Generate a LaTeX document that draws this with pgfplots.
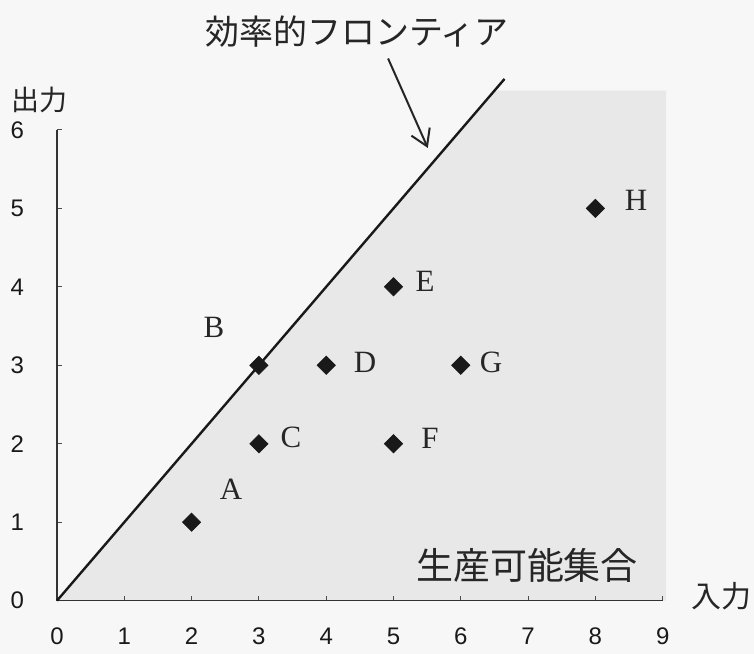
\documentclass[border=0pt]{standalone}
\usepackage{fontspec}
\setmainfont{Liberation Sans}
\newfontfamily\serifabc{Liberation Serif}
\newfontfamily\jp{Noto Sans CJK JP}
\usepackage{pgfplots}
\pgfplotsset{compat=1.18}
\usetikzlibrary{arrows.meta}
\begin{document}
\begin{tikzpicture}
\begin{axis}[
    set layers,
    scale only axis,
    width=303pt, height=235.5pt,
    xmin=0, xmax=9, ymin=0, ymax=6,
    axis lines*=left,
    axis line style={line width=0.75pt, black!80},
    xtick={0,...,9}, ytick={0,...,6},
    tick align=inside,
    major tick length=2.5pt,
    tick style={line width=0.5pt, black!70},
    /pgf/number format/assume math mode=true,
    tick label style={font=\fontsize{12}{13}\selectfont, text=black!90},
    xticklabel style={yshift=-10pt},
    yticklabel style={xshift=-13pt},
    clip=false]
  % scanned page and the shaded production set
  \begin{pgfonlayer}{axis background}
    \fill[gray!6] (axis cs:-0.847,-0.675) rectangle (axis cs:10.357,7.656);
    \fill[gray!18] (axis cs:0,0) -- (axis cs:6.5,6.5) -- (axis cs:9.05,6.5)
        -- (axis cs:9.05,0) -- cycle;
  \end{pgfonlayer}
  % efficient frontier
  \addplot[black!90, line width=1.2pt] coordinates {(0,0) (6.65,6.65)};
  % DMUs
  \addplot[only marks, mark=square*, mark size=3.2pt,
      mark options={rotate=45, fill=black!90, draw=black!90}]
    coordinates {(2,1) (3,3) (3,2) (4,3) (5,4) (5,2) (6,3) (8,5)};
  % point names
  \begin{scope}[every node/.style={font=\serifabc\fontsize{15.5}{16}\selectfont,
      text=black!85, inner sep=0pt}]
    \node at (axis cs:2.585,1.414) {A};
    \node at (axis cs:2.333,3.478) {B};
    \node at (axis cs:3.477,2.076) {C};
    \node at (axis cs:4.577,3.032) {D};
    \node at (axis cs:5.468,4.076) {E};
    \node at (axis cs:5.542,2.064) {F};
    \node at (axis cs:6.449,3.032) {G};
    \node at (axis cs:8.603,5.108) {H};
  \end{scope}
  % labels
  \node[font=\jp\fontsize{17}{18}\selectfont, text=black!85, inner sep=0pt]
    at (axis cs:4.458,7.248) {効率的フロンティア};
  \draw[line width=1pt, black!85, -{Straight Barb[length=8pt,width=10pt]}]
    (axis cs:4.92,6.91) -- (axis cs:5.51,5.77);
  \node[font=\jp\fontsize{14}{15}\selectfont, text=black!85, inner sep=0pt]
    at (axis cs:-0.253,6.382) {出力};
  \node[font=\jp\fontsize{15}{16}\selectfont, text=black!85, inner sep=0pt]
    at (axis cs:9.881,0.051) {入力};
  \node[font=\jp\fontsize{18.5}{19}\selectfont, text=black!85, inner sep=0pt]
    at (axis cs:6.984,0.446) {生産可能集合};
\end{axis}
\end{tikzpicture}
\end{document}
